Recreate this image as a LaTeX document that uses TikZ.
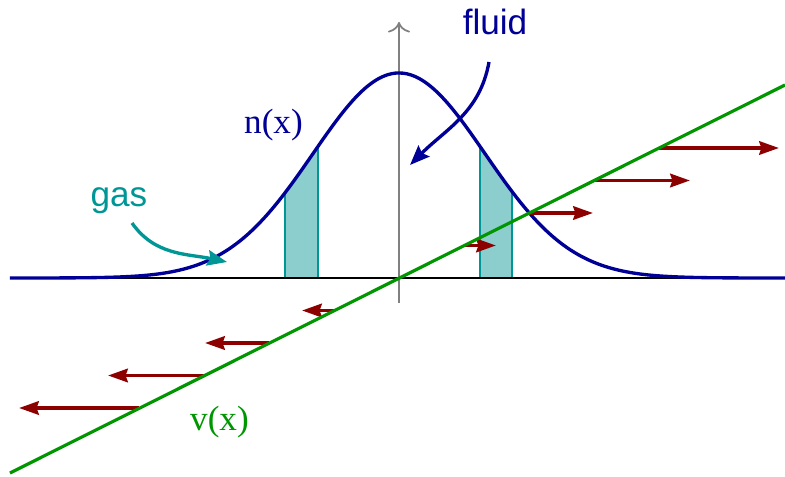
\documentclass[tikz,border=0pt]{standalone}
\usepackage{fontspec}
\setmainfont{Liberation Serif}
\setsansfont{Liberation Sans}
\usetikzlibrary{arrows.meta}

\definecolor{densblue}{RGB}{0,0,150}
\definecolor{gasteal}{RGB}{0,150,150}
\definecolor{bandfill}{RGB}{140,206,206}
\definecolor{velgreen}{RGB}{0,150,0}
\definecolor{arrowred}{RGB}{140,0,0}

\begin{document}
\begin{tikzpicture}[
    declare function={dens(\x)=2.05*exp(-(\x)^2/(2*0.86^2));},
    velarrow/.style={arrowred, line width=1.05pt, -{Stealth[length=5.6pt,width=3.8pt,inset=0.6pt]}},
    pointer/.style={line width=0.95pt, -{Stealth[length=5.6pt,width=4.4pt,inset=0.8pt]}},
    labelsans/.style={font=\sffamily\fontsize{10}{12}\selectfont, anchor=base},
    labelserif/.style={font=\fontsize{10}{12}\selectfont, anchor=base}
]
    \useasboundingbox (-3.99,-1.98) rectangle (3.86,2.78);

    % Shaded slabs under the density
    \foreach \a/\b in {-1.14/-0.81, 0.81/1.13} {
        \fill[bandfill] (\a,0) -- plot[domain=\a:\b, samples=20] (\x,{dens(\x)}) -- (\b,0) -- cycle;
        \draw[gasteal, line width=0.4pt] (\a,0) -- (\a,{dens(\a)});
        \draw[gasteal, line width=0.4pt] (\b,0) -- (\b,{dens(\b)});
    }

    % Axes
    \draw[black, line width=0.3pt] (-3.89,0) -- (3.86,0);
    \draw[gray, line width=0.5pt, -{To[length=3pt]}] (0,-0.25) -- (0,2.56);

    % Density profile n(x)
    \draw[densblue, line width=0.95pt] plot[domain=-3.89:3.86, samples=200, smooth] (\x,{dens(\x)});

    % Velocity arrows
    \foreach \k/\len in {1/0.32, 2/0.64, 3/0.96, 4/1.20} {
        \coordinate (vr\k) at ({0.65*\k},{0.325*\k});
        \coordinate (vl\k) at ({-0.65*\k},{-0.325*\k});
        \draw[velarrow] (vr\k) -- ++(\len,0);
        \draw[velarrow] (vl\k) -- ++(-\len,0);
    }

    % Velocity profile v(x)
    \coordinate (v0) at (-3.89,-1.95);
    \coordinate (v1) at (3.86,1.93);
    \draw[velgreen, line width=0.9pt] (v0) -- (v1);

    % Labels
    \node[labelsans, densblue] (fluid) at (0.96,2.43) {fluid};
    \node[labelsans, gasteal] (gas) at (-2.80,0.72) {gas};
    \node[labelserif, densblue] (nx) at (-1.255,1.45) {n(x)};
    \node[labelserif, velgreen] (vx) at (-1.795,-1.52) {v(x)};

    % Pointers
    \coordinate (fluidstart) at (0.90,2.16);
    \coordinate (fluidtip) at (0.11,1.13);
    \coordinate (gasstart) at (-2.67,0.55);
    \coordinate (gastip) at (-1.72,0.16);
    \draw[pointer, densblue] (fluidstart) to[out=-100, in=45] (fluidtip);
    \draw[pointer, gasteal] (gasstart) to[out=-55, in=168] (gastip);
\end{tikzpicture}
\end{document}
